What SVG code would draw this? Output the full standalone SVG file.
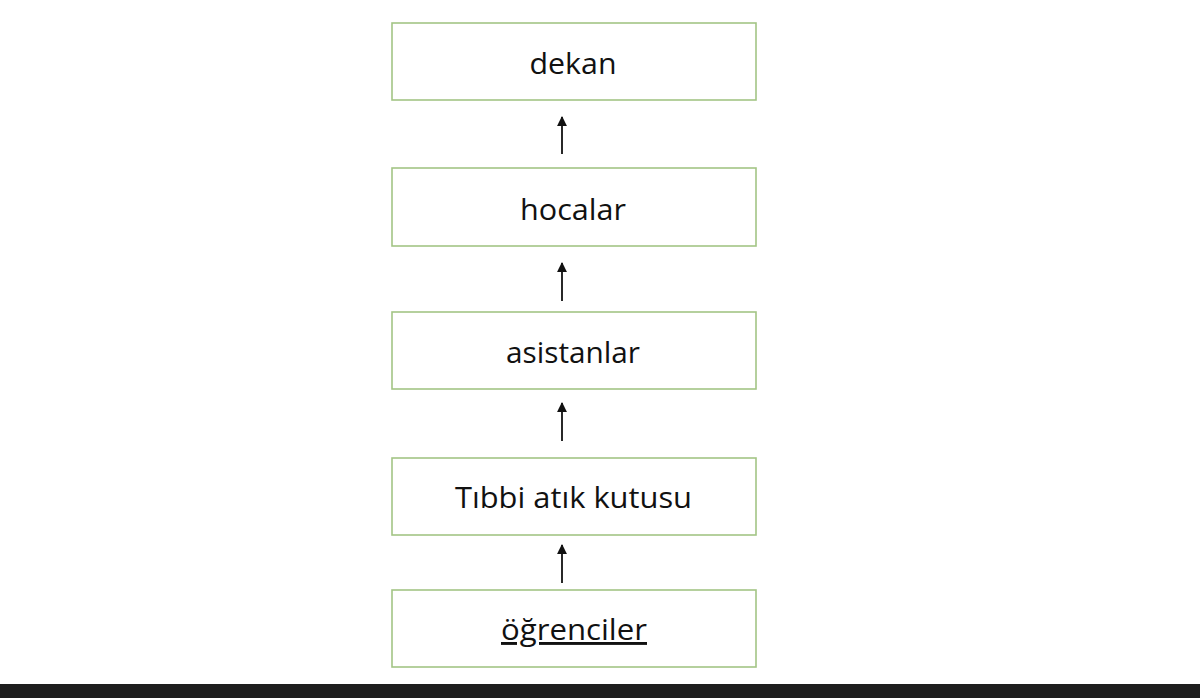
<svg xmlns="http://www.w3.org/2000/svg" width="1200" height="698" viewBox="0 0 1200 698">
<style>
.box{fill:#ffffff;stroke:#a3c585;stroke-width:1.6}
.lbl{font-family:"Open Sans","Liberation Sans",sans-serif;font-size:29px;fill:#111111;text-anchor:middle}
.conn{stroke:#111111;stroke-width:1.8;fill:none}
</style>
<defs>
<marker id="arr" viewBox="0 0 10 10" refX="9" refY="5" markerWidth="5.5" markerHeight="5.5" orient="auto" markerUnits="strokeWidth">
<path d="M0,0 L10,5 L0,10 z" fill="#111111"/>
</marker>
</defs>
<rect x="0" y="0" width="1200" height="698" fill="#ffffff"/>
<g id="dekan"><rect class="box" x="392" y="23" width="364" height="77"/><text class="lbl" x="573" y="74" textLength="87" lengthAdjust="spacingAndGlyphs">dekan</text></g>
<g id="hocalar"><rect class="box" x="392" y="168" width="364" height="78"/><text class="lbl" x="573" y="220" textLength="106" lengthAdjust="spacingAndGlyphs">hocalar</text></g>
<g id="asistanlar"><rect class="box" x="392" y="312" width="364" height="77"/><text class="lbl" x="573" y="363" textLength="134" lengthAdjust="spacingAndGlyphs">asistanlar</text></g>
<g id="tibbi"><rect class="box" x="392" y="458" width="364" height="77"/><text class="lbl" x="573.5" y="508" textLength="237" lengthAdjust="spacingAndGlyphs">Tıbbi atık kutusu</text></g>
<g id="ogrenciler"><rect class="box" x="392" y="590" width="364" height="77"/><text class="lbl" x="574" y="640" textLength="146" lengthAdjust="spacingAndGlyphs" text-decoration="underline">öğrenciler</text></g>
<g id="connectors">
<line class="conn" x1="562" y1="154" x2="562" y2="117" marker-end="url(#arr)"/>
<line class="conn" x1="562" y1="301" x2="562" y2="263" marker-end="url(#arr)"/>
<line class="conn" x1="562" y1="441" x2="562" y2="403" marker-end="url(#arr)"/>
<line class="conn" x1="562" y1="583" x2="562" y2="545" marker-end="url(#arr)"/>
</g>
<rect x="0" y="684" width="1200" height="14" fill="#1e1e1e"/>
</svg>
